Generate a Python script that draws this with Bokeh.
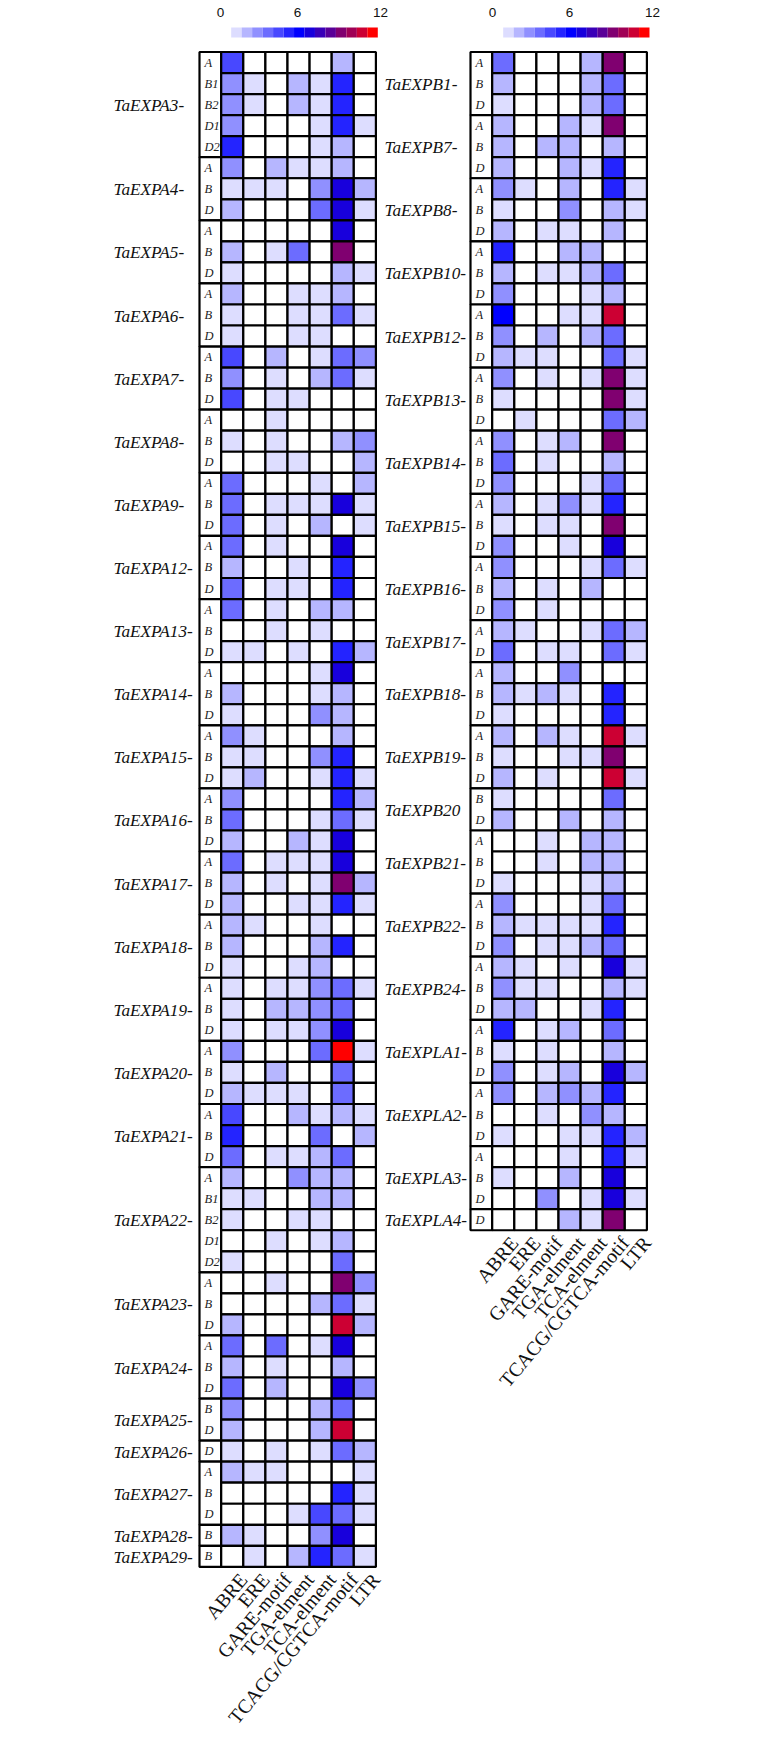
from bokeh.plotting import figure
from bokeh.models import ColumnDataSource, Range1d
from bokeh.core.properties import value
from bokeh.embed import file_html
from bokeh.resources import INLINE

motifs = ["ABRE", "ERE", "GARE-motif", "TGA-elment", "TCA-elment", "TCACG/CGTCA-motif", "LTR"]
scale_ticks = ["0", "6", "12"]
palette = ["#FFFFFF", "#DDDDFF", "#B6B6FF", "#9090FF", "#6C6CFF", "#4848FF", "#2424FF", "#0000FF",
           "#1800DC", "#3A00B8", "#5A0098", "#800070", "#A00055", "#CC0033", "#FF0000"]

left_genes = [
    ("TaEXPA3-", ["A", "B1", "B2", "D1", "D2"], [[5,0,0,0,0,2,0],[3,1,0,2,1,6,0],[3,1,0,2,1,6,0],[3,0,0,0,1,6,1],[6,0,0,0,1,2,0]]),
    ("TaEXPA4-", ["A", "B", "D"], [[3,0,2,1,1,2,0],[1,1,1,0,3,8,2],[2,0,0,0,4,8,1]]),
    ("TaEXPA5-", ["A", "B", "D"], [[0,0,0,0,0,8,0],[2,0,1,4,0,11,0],[1,0,0,0,0,2,1]]),
    ("TaEXPA6-", ["A", "B", "D"], [[2,0,0,1,1,2,0],[1,0,0,1,1,4,1],[1,0,0,1,1,0,0]]),
    ("TaEXPA7-", ["A", "B", "D"], [[5,0,2,0,1,4,3],[3,0,1,0,2,4,1],[5,0,1,1,0,0,0]]),
    ("TaEXPA8-", ["A", "B", "D"], [[0,0,1,0,0,0,0],[1,0,1,0,0,2,3],[0,0,1,1,0,0,2]]),
    ("TaEXPA9-", ["A", "B", "D"], [[4,0,0,0,1,0,2],[4,0,1,1,1,8,1],[4,0,1,0,2,0,1]]),
    ("TaEXPA12-", ["A", "B", "D"], [[4,0,1,0,0,8,0],[2,0,0,1,0,6,0],[4,0,1,1,0,6,0]]),
    ("TaEXPA13-", ["A", "B", "D"], [[4,0,1,0,2,2,0],[0,0,1,0,1,0,0],[1,1,0,1,0,6,2]]),
    ("TaEXPA14-", ["A", "B", "D"], [[0,0,0,0,1,8,0],[2,0,0,0,1,2,0],[1,0,0,0,3,2,0]]),
    ("TaEXPA15-", ["A", "B", "D"], [[3,1,0,0,0,2,0],[1,1,0,0,3,6,0],[1,2,0,0,1,6,1]]),
    ("TaEXPA16-", ["A", "B", "D"], [[3,0,0,0,0,6,2],[4,0,0,0,1,4,1],[2,0,0,2,1,8,0]]),
    ("TaEXPA17-", ["A", "B", "D"], [[4,0,1,1,1,8,0],[2,0,1,0,1,11,2],[2,0,0,1,1,6,1]]),
    ("TaEXPA18-", ["A", "B", "D"], [[2,1,0,0,1,0,0],[2,0,0,0,2,6,0],[1,0,0,1,2,0,0]]),
    ("TaEXPA19-", ["A", "B", "D"], [[1,0,1,1,3,4,1],[1,0,2,2,3,4,0],[1,0,1,1,3,8,0]]),
    ("TaEXPA20-", ["A", "B", "D"], [[3,0,0,0,4,14,1],[1,0,2,0,0,4,0],[2,1,1,1,0,4,0]]),
    ("TaEXPA21-", ["A", "B", "D"], [[5,0,0,2,1,2,1],[6,0,0,0,4,0,2],[4,0,1,1,2,4,0]]),
    ("TaEXPA22-", ["A", "B1", "B2", "D1", "D2"], [[2,0,0,3,2,2,0],[1,1,0,0,2,2,0],[1,0,0,1,1,0,0],[0,0,1,0,1,2,0],[1,0,0,0,0,4,0]]),
    ("TaEXPA23-", ["A", "B", "D"], [[0,0,1,0,0,11,3],[0,0,0,0,2,4,1],[2,0,0,0,0,13,2]]),
    ("TaEXPA24-", ["A", "B", "D"], [[4,0,4,0,1,8,0],[2,0,1,0,0,2,0],[4,0,2,0,0,8,3]]),
    ("TaEXPA25-", ["B", "D"], [[3,0,0,0,2,4,0],[2,0,0,0,2,13,0]]),
    ("TaEXPA26-", ["D"], [[1,0,1,0,1,4,2]]),
    ("TaEXPA27-", ["A", "B", "D"], [[2,1,1,0,0,0,1],[0,0,0,0,0,6,1],[0,0,0,1,5,4,1]]),
    ("TaEXPA28-", ["B"], [[2,1,0,0,3,8,0]]),
    ("TaEXPA29-", ["B"], [[0,1,0,2,6,4,1]]),
]
right_genes = [
    ("TaEXPB1-", ["A", "B", "D"], [[4,0,0,0,2,11,0],[2,0,0,0,2,4,0],[1,0,0,0,2,4,0]]),
    ("TaEXPB7-", ["A", "B", "D"], [[2,0,0,2,1,11,0],[2,0,2,2,0,2,0],[2,0,0,2,1,6,0]]),
    ("TaEXPB8-", ["A", "B", "D"], [[3,1,0,2,0,6,1],[1,0,0,3,0,2,1],[2,0,1,1,0,2,0]]),
    ("TaEXPB10-", ["A", "B", "D"], [[6,0,0,2,2,0,0],[2,0,1,1,2,4,0],[3,0,0,0,1,2,0]]),
    ("TaEXPB12-", ["A", "B", "D"], [[7,0,0,1,1,13,0],[3,0,2,0,2,4,0],[2,1,1,0,0,4,1]]),
    ("TaEXPB13-", ["A", "B", "D"], [[3,0,1,0,1,11,1],[1,0,0,0,0,11,1],[0,1,0,0,0,4,2]]),
    ("TaEXPB14-", ["A", "B", "D"], [[3,0,1,2,0,11,0],[4,0,1,0,0,2,0],[3,0,0,0,1,4,0]]),
    ("TaEXPB15-", ["A", "B", "D"], [[2,0,1,3,1,6,0],[1,0,1,1,0,11,0],[3,0,0,1,0,8,0]]),
    ("TaEXPB16-", ["A", "B", "D"], [[3,0,0,0,1,4,1],[2,0,1,0,2,0,0],[3,0,1,0,0,0,0]]),
    ("TaEXPB17-", ["A", "D"], [[2,1,0,0,1,4,2],[4,0,1,1,0,4,1]]),
    ("TaEXPB18-", ["A", "B", "D"], [[2,0,0,3,0,0,0],[2,1,2,1,0,6,0],[1,0,0,0,0,6,0]]),
    ("TaEXPB19-", ["A", "B", "D"], [[2,0,2,1,0,13,1],[1,0,0,1,1,11,0],[2,0,1,0,0,13,1]]),
    ("TaEXPB20", ["B", "D"], [[1,0,0,0,0,4,0],[2,0,0,2,0,2,0]]),
    ("TaEXPB21-", ["A", "B", "D"], [[0,0,1,0,2,2,0],[0,0,1,0,2,2,0],[1,0,0,0,1,2,0]]),
    ("TaEXPB22-", ["A", "B", "D"], [[3,0,0,0,1,4,0],[2,1,1,1,1,6,0],[3,0,1,1,2,4,0]]),
    ("TaEXPB24-", ["A", "B", "D"], [[2,1,0,1,0,8,1],[3,1,1,0,0,2,1],[2,2,0,0,1,6,0]]),
    ("TaEXPLA1-", ["A", "B", "D"], [[6,0,1,2,0,4,0],[1,0,1,0,0,2,0],[3,0,1,2,0,8,2]]),
    ("TaEXPLA2-", ["A", "B", "D"], [[3,0,2,3,2,6,0],[0,0,1,0,3,2,0],[1,0,0,1,1,6,2]]),
    ("TaEXPLA3-", ["A", "B", "D"], [[0,0,0,1,0,6,1],[1,0,0,2,0,8,0],[0,0,3,0,1,8,1]]),
    ("TaEXPLA4-", ["D"], [[0,0,0,2,1,11,0]]),
]

W, H = 775, 1733
TOP = 51.5               # top of the grids
ROW = 21.04
CELL = 22.1
LABEL_COL = 21.7
SERIF = value("Liberation Serif")
SANS = value("Liberation Sans")

p = figure(width=W, height=H, x_range=Range1d(0, W), y_range=Range1d(H, 0),
           output_backend="svg", toolbar_location=None, min_border=0,
           outline_line_color=None)
p.axis.visible = False
p.grid.visible = False


def panel(p, genes, left, name_x, bar_x0, bar_x1, tick_xs):
    cx0 = left + LABEL_COL
    cell = dict(l=[], r=[], t=[], b=[], c=[])
    grp = dict(l=[], r=[], t=[], b=[])
    names = dict(x=[], y=[], t=[])
    subs = dict(x=[], y=[], t=[])
    row = 0
    for gene, subrows, vals in genes:
        n = len(subrows)
        grp["l"].append(left); grp["r"].append(cx0)
        grp["t"].append(TOP + row * ROW); grp["b"].append(TOP + (row + n) * ROW)
        names["x"].append(name_x); names["y"].append(TOP + (row + n / 2) * ROW + 1); names["t"].append(gene)
        for k, (s, rv) in enumerate(zip(subrows, vals)):
            subs["x"].append(left + 5)
            subs["y"].append(TOP + (row + k + 0.5) * ROW)
            subs["t"].append(s)
            for j, v in enumerate(rv):
                cell["l"].append(cx0 + j * CELL); cell["r"].append(cx0 + (j + 1) * CELL)
                cell["t"].append(TOP + (row + k) * ROW); cell["b"].append(TOP + (row + k + 1) * ROW)
                cell["c"].append(palette[v])
        row += n
    p.quad(left="l", right="r", top="t", bottom="b", source=ColumnDataSource(grp),
           fill_color="white", line_color="black", line_width=2.2)
    p.quad(left="l", right="r", top="t", bottom="b", fill_color="c", source=ColumnDataSource(cell),
           line_color="black", line_width=2.2)
    p.text(x="x", y="y", text="t", source=ColumnDataSource(names), text_font=SERIF,
           text_font_style="italic", text_font_size="17.2px", text_baseline="middle", text_align="left",
           text_color="#111111")
    p.text(x="x", y="y", text="t", source=ColumnDataSource(subs), text_font=SERIF,
           text_font_style="italic", text_font_size="12.5px", text_baseline="middle", text_align="left",
           text_color="#222222")
    # motif labels
    bottom = TOP + row * ROW
    lx = [cx0 + (j + 0.5) * CELL + 11 for j in range(len(motifs))]
    ly = [bottom + 9] * len(motifs)
    p.text(x=lx, y=ly, text=motifs, angle=50, angle_units="deg", text_font=SERIF,
           text_font_size="19.8px", text_align="right", text_baseline="middle", text_color="#111111")
    # colour scale
    steps = len(palette) - 1
    sw = (bar_x1 - bar_x0) / steps
    p.quad(left=[bar_x0 + i * sw for i in range(steps)], right=[bar_x0 + (i + 1) * sw for i in range(steps)],
           top=[27] * steps, bottom=[37] * steps, fill_color=palette[1:], line_color=None)
    p.text(x=tick_xs, y=[12] * 3, text=scale_ticks, text_font=SANS, text_font_size="13.5px",
           text_align="center", text_baseline="middle", text_color="#111111")


panel(p, left_genes, 199, 113, 230.7, 377.3, [220, 297, 380])
panel(p, right_genes, 470, 384, 502.7, 649, [492, 569, 652])

open("out.html", "w").write(file_html(p, INLINE))
